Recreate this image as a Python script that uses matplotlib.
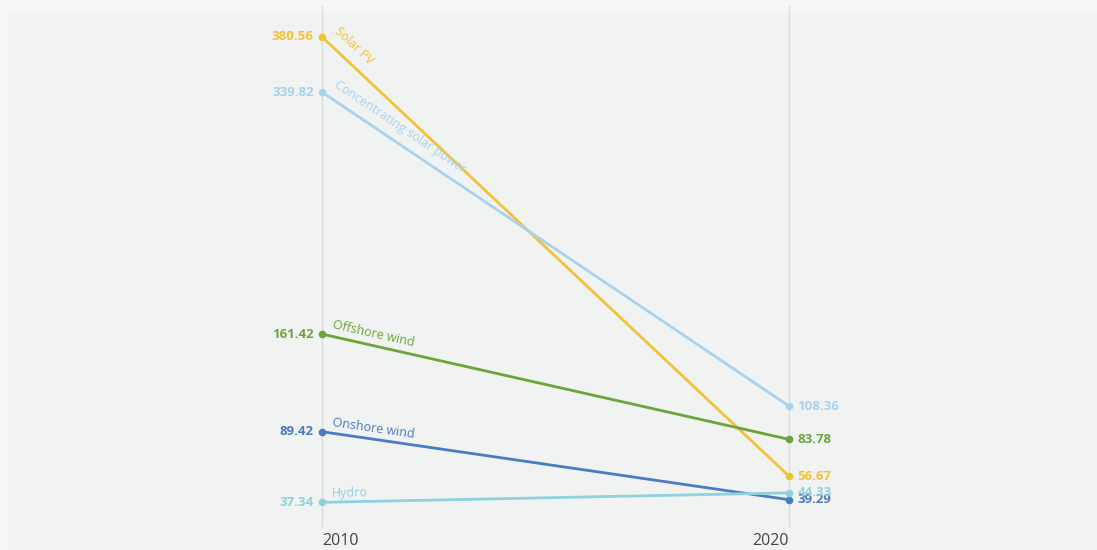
import matplotlib.pyplot as plt
import numpy as np

plt.rcParams["font.family"] = ["Open Sans", "DejaVu Sans"]

years = [2010, 2020]
series = ["Solar PV", "Concentrating solar power", "Offshore wind", "Onshore wind", "Hydro"]
v2010 = [380.56, 339.82, 161.42, 89.42, 37.34]
v2020 = [56.67, 108.36, 83.78, 39.29, 44.33]
colors = ["#f3c13a", "#a8d3ef", "#6ba539", "#4a7bc4", "#8fd2dd"]

fig = plt.figure(figsize=(10.97, 5.5), dpi=100)
fig.patch.set_facecolor("#f5f7f6")
# inner panel background
fig.patches.append(plt.Rectangle((8 / 1097, 0), 1, 1 - 12 / 550, transform=fig.transFigure,
                                 facecolor="#f1f2f2", edgecolor="none", zorder=-10))

ax = fig.add_axes([322 / 1097, 1 - 515 / 550, (789 - 322) / 1097, 495 / 550])
ax.set_facecolor("none")
ax.set_xlim(2010, 2020)
ax.set_ylim(28, 393)
for s in ax.spines.values():
    s.set_visible(False)
ax.set_yticks([])
ax.set_xticks(years)
ax.set_xticklabels([str(y) for y in years], fontsize=11.5, color="#444444")
ax.tick_params(axis="x", length=0, pad=13)
ax.get_xticklabels()[0].set_ha("left")
ax.get_xticklabels()[1].set_ha("right")

for yr in years:
    ax.plot([yr, yr], [20, 403], color="#dcdedd", lw=1, clip_on=False, zorder=1)

fig.canvas.draw()
for name, a, b, c in zip(series, v2010, v2020, colors):
    ax.plot(years, [a, b], color=c, lw=2, marker="o", ms=4.5, zorder=3, clip_on=False)
    ax.annotate(f"{a:.2f}", (2010, a), xytext=(-6, 0), textcoords="offset points",
                ha="right", va="center", fontsize=9.5, fontweight="bold", color=c)
    ax.annotate(f"{b:.2f}", (2020, b), xytext=(6, 0), textcoords="offset points",
                ha="left", va="center", fontsize=9.5, fontweight="bold", color=c)
    p1 = ax.transData.transform((2010, a))
    p2 = ax.transData.transform((2020, b))
    ang = np.degrees(np.arctan2(p2[1] - p1[1], p2[0] - p1[0]))
    ax.annotate(name, (2010, a), xytext=(7, 2), textcoords="offset points",
                ha="left", va="bottom", fontsize=9, color=c,
                rotation=ang, rotation_mode="anchor")

fig.savefig("out.png", dpi=100, facecolor=fig.get_facecolor())
